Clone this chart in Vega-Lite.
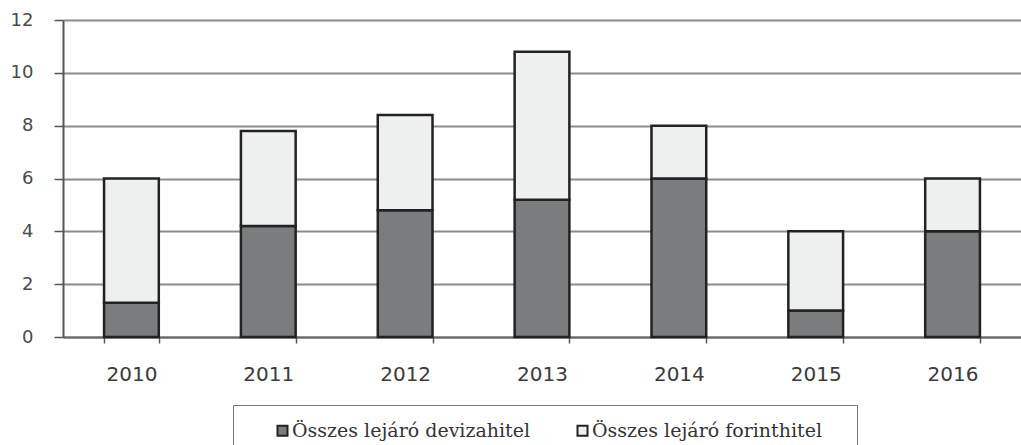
{
  "$schema": "https://vega.github.io/schema/vega-lite/v6.json",
  "width": 958,
  "height": 317,
  "autosize": {"type": "none"},
  "padding": {"left": 63, "top": 20, "right": 0, "bottom": 108},
  "background": "white",
  "data": {
    "values": [
      {"year": "2010", "series": "Összes lejáró devizahitel", "ord": 1, "value": 1.3},
      {"year": "2010", "series": "Összes lejáró forinthitel", "ord": 2, "value": 4.7},
      {"year": "2011", "series": "Összes lejáró devizahitel", "ord": 1, "value": 4.2},
      {"year": "2011", "series": "Összes lejáró forinthitel", "ord": 2, "value": 3.6},
      {"year": "2012", "series": "Összes lejáró devizahitel", "ord": 1, "value": 4.8},
      {"year": "2012", "series": "Összes lejáró forinthitel", "ord": 2, "value": 3.6},
      {"year": "2013", "series": "Összes lejáró devizahitel", "ord": 1, "value": 5.2},
      {"year": "2013", "series": "Összes lejáró forinthitel", "ord": 2, "value": 5.6},
      {"year": "2014", "series": "Összes lejáró devizahitel", "ord": 1, "value": 6.0},
      {"year": "2014", "series": "Összes lejáró forinthitel", "ord": 2, "value": 2.0},
      {"year": "2015", "series": "Összes lejáró devizahitel", "ord": 1, "value": 1.0},
      {"year": "2015", "series": "Összes lejáró forinthitel", "ord": 2, "value": 3.0},
      {"year": "2016", "series": "Összes lejáró devizahitel", "ord": 1, "value": 4.0},
      {"year": "2016", "series": "Összes lejáró forinthitel", "ord": 2, "value": 2.0}
    ]
  },
  "mark": {"type": "bar", "stroke": "#222222", "strokeWidth": 2.5},
  "encoding": {
    "x": {
      "field": "year",
      "type": "ordinal",
      "scale": {"paddingInner": 0.6, "paddingOuter": 0.3},
      "axis": {
        "title": null,
        "labelAngle": 0,
        "labelFont": "DejaVu Sans",
        "labelFontSize": 20,
        "labelColor": "#3a3a3a",
        "labelPadding": 21,
        "tickBand": "extent",
        "tickSize": 6,
        "tickColor": "#555555",
        "tickWidth": 1.5,
        "domainColor": "#666666",
        "domainWidth": 2,
        "grid": false
      }
    },
    "y": {
      "field": "value",
      "type": "quantitative",
      "stack": "zero",
      "scale": {"domain": [0, 12], "nice": false},
      "axis": {
        "title": null,
        "values": [0, 2, 4, 6, 8, 10, 12],
        "labelFont": "DejaVu Sans",
        "labelFontSize": 18,
        "labelColor": "#4a4a4a",
        "labelPadding": 21,
        "tickSize": 9,
        "tickColor": "#555555",
        "tickWidth": 1.5,
        "domainColor": "#555555",
        "domainWidth": 2,
        "grid": true,
        "gridColor": "#8c8c8c",
        "gridWidth": 2
      }
    },
    "color": {
      "field": "series",
      "type": "nominal",
      "scale": {
        "domain": ["Összes lejáró devizahitel", "Összes lejáró forinthitel"],
        "range": ["#7b7c7e", "#eef0f0"]
      },
      "legend": {
        "title": null,
        "orient": "none",
        "legendX": 170,
        "legendY": 385,
        "direction": "horizontal",
        "strokeColor": "#777777",
        "padding": 16,
        "symbolType": "square",
        "symbolSize": 100,
        "symbolStrokeColor": "#222222",
        "symbolStrokeWidth": 2,
        "symbolOffset": 24,
        "labelOffset": 0,
        "columnPadding": 18,
        "labelFont": "DejaVu Serif",
        "labelFontSize": 19,
        "labelColor": "#333333",
        "labelLimit": 400,
        "labelExpr": "indexof(datum.label, 'forint') >= 0 ? datum.label + '\u2007\u00a0\u200b' : datum.label"
      }
    },
    "order": {"field": "ord", "type": "quantitative"}
  },
  "config": {"view": {"stroke": null}}
}
